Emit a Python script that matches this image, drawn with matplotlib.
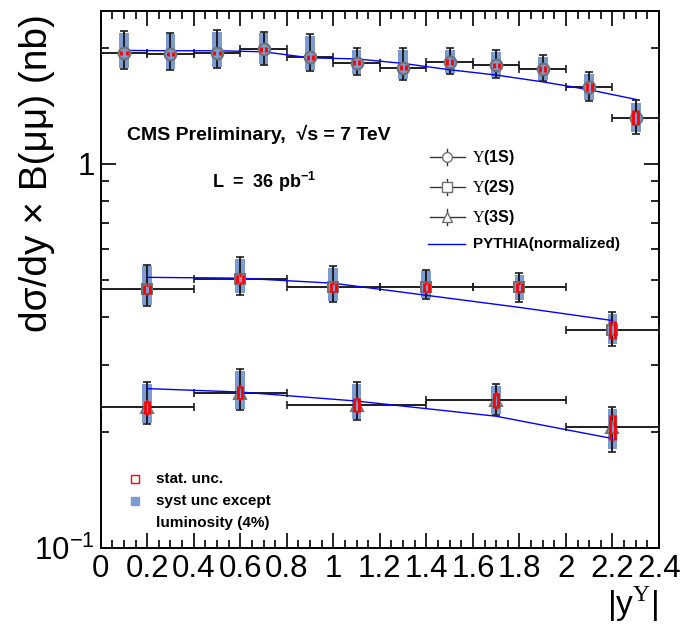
import matplotlib.pyplot as plt
from matplotlib.patches import Rectangle
from matplotlib.ticker import MultipleLocator, NullFormatter, LogLocator

plt.rcParams['font.family'] = ['Liberation Sans', 'DejaVu Sans']
plt.rcParams['mathtext.fontset'] = 'custom'
plt.rcParams['mathtext.rm'] = 'Liberation Serif'
plt.rcParams['mathtext.bf'] = 'Liberation Sans:bold'
plt.rcParams['mathtext.sf'] = 'Liberation Sans'

# Upsilon(1S): bin centres, half widths, value, total / syst / stat errors
x_1s = [0.1, 0.3, 0.5, 0.7, 0.9, 1.1, 1.3, 1.5, 1.7, 1.9, 2.1, 2.3]
xw_1s = [0.1] * 12
y_1s = [1.946, 1.934, 1.939, 1.986, 1.893, 1.833, 1.779, 1.841, 1.804, 1.768, 1.588, 1.319]
tot_up_1s = [0.27, 0.255, 0.29, 0.22, 0.28, 0.17, 0.22, 0.16, 0.17, 0.15, 0.146, 0.147]
tot_dn_1s = [0.18, 0.18, 0.16, 0.18, 0.15, 0.13, 0.13, 0.125, 0.13, 0.125, 0.13, 0.125]
sys_up_1s = [0.25, 0.24, 0.27, 0.20, 0.26, 0.15, 0.20, 0.14, 0.15, 0.13, 0.13, 0.12]
sys_dn_1s = [0.17, 0.17, 0.15, 0.17, 0.14, 0.12, 0.12, 0.115, 0.12, 0.115, 0.12, 0.11]
stat_1s = [0.023, 0.023, 0.023, 0.026, 0.025, 0.026, 0.027, 0.029, 0.031, 0.034, 0.040, 0.060]
pythia_1s = [1.974, 1.97, 1.97, 1.958, 1.888, 1.876, 1.826, 1.758, 1.703, 1.635, 1.559, 1.472]

# Upsilon(2S)
x_2s = [0.2, 0.6, 1.0, 1.4, 1.8, 2.2]
xw_2s = [0.2] * 6
y_2s = [0.471, 0.502, 0.477, 0.477, 0.477, 0.3705]
tot_up_2s = [0.075, 0.069, 0.065, 0.053, 0.042, 0.040]
tot_dn_2s = [0.044, 0.045, 0.040, 0.033, 0.039, 0.034]
sys_up_2s = [0.070, 0.064, 0.060, 0.048, 0.038, 0.036]
sys_dn_2s = [0.041, 0.042, 0.037, 0.030, 0.035, 0.030]
stat_2s = [0.013, 0.013, 0.013, 0.013, 0.014, 0.020]
pythia_2s = [0.5065, 0.504, 0.489, 0.4548, 0.423, 0.391]

# Upsilon(3S)
x_3s = [0.2, 0.6, 1.1, 1.7, 2.2]
xw_3s = [0.2, 0.2, 0.3, 0.3, 0.2]
y_3s = [0.2328, 0.2537, 0.2361, 0.2423, 0.2066]
tot_up_3s = [0.0376, 0.0384, 0.0343, 0.0244, 0.0262]
tot_dn_3s = [0.0229, 0.0254, 0.0211, 0.0207, 0.029]
sys_up_3s = [0.034, 0.035, 0.031, 0.022, 0.024]
sys_dn_3s = [0.021, 0.023, 0.019, 0.019, 0.026]
stat_3s = [0.009, 0.010, 0.010, 0.011, 0.015]
pythia_3s = [0.260, 0.2547, 0.2413, 0.2203, 0.1927]

x_ticks = [0, 0.2, 0.4, 0.6, 0.8, 1.0, 1.2, 1.4, 1.6, 1.8, 2.0, 2.2, 2.4]
x_ticklabels = ['0', '0.2', '0.4', '0.6', '0.8', '1', '1.2', '1.4', '1.6', '1.8', '2', '2.2', '2.4']

box_blue = '#7b9bd2'
mark_gray = '#707070'

fig = plt.figure(figsize=(6.81, 6.25), dpi=100)
ax = fig.add_axes([100.7 / 681, 1 - 548 / 625, 558.3 / 681, 537 / 625])
ax.set_yscale('log')
ax.set_xlim(0, 2.4)
ax.set_ylim(0.1, 2.5)


def draw_series(x, xw, y, tup, tdn, sup, sdn, stat, marker, ms, rw, caps):
    for xi, yi, su, sd in zip(x, y, sup, sdn):
        ax.add_patch(Rectangle((xi - 0.021, yi - sd), 0.042, su + sd,
                               facecolor=box_blue, edgecolor='none', zorder=2))
    ax.errorbar(x, y, xerr=xw, yerr=[tdn, tup], fmt='none', ecolor='#1e1e1e',
                elinewidth=1.4, capsize=3, capthick=1.2, zorder=3)
    ax.plot(x, y, linestyle='none', marker=marker, ms=ms, mfc=box_blue,
            mec=mark_gray, mew=1.4, zorder=4)
    # stat. uncertainty: red bracket marks around the marker
    lo = [yi - st for yi, st in zip(y, stat)]
    hi = [yi + st for yi, st in zip(y, stat)]
    ax.vlines([xi - rw for xi in x], lo, hi, color='red', lw=2.0, zorder=5)
    ax.vlines([xi + rw for xi in x], lo, hi, color='red', lw=2.0, zorder=5)
    if caps:
        ax.hlines(lo, [xi - 0.004 for xi in x], [xi + 0.004 for xi in x],
                  color='red', lw=2.0, zorder=5)
        ax.hlines(hi, [xi - 0.004 for xi in x], [xi + 0.004 for xi in x],
                  color='red', lw=2.0, zorder=5)


draw_series(x_1s, xw_1s, y_1s, tot_up_1s, tot_dn_1s, sys_up_1s, sys_dn_1s,
            stat_1s, 'o', 8.5, 0.011, False)
draw_series(x_2s, xw_2s, y_2s, tot_up_2s, tot_dn_2s, sys_up_2s, sys_dn_2s,
            stat_2s, 's', 7.5, 0.012, True)
draw_series(x_3s, xw_3s, y_3s, tot_up_3s, tot_dn_3s, sys_up_3s, sys_dn_3s,
            stat_3s, '^', 8.5, 0.009, True)

ax.plot(x_1s, pythia_1s, color='blue', lw=1.0, zorder=3.5)
ax.plot(x_2s, pythia_2s, color='blue', lw=1.0, zorder=3.5)
ax.plot(x_3s, pythia_3s, color='blue', lw=1.0, zorder=3.5)

# axes and ticks
ax.set_xticks(x_ticks)
ax.set_xticklabels(x_ticklabels)
ax.xaxis.set_minor_locator(MultipleLocator(0.05))
ax.set_yticks([0.1, 1])
ax.set_yticklabels([r'$\mathsf{10^{-1}}$', '1'])
ax.yaxis.set_minor_locator(LogLocator(base=10, subs=range(2, 10)))
ax.yaxis.set_minor_formatter(NullFormatter())
ax.tick_params(which='both', direction='in', top=True, right=True,
               labelsize=22.5, width=1.2)
ax.tick_params(which='major', length=11)
ax.tick_params(which='minor', length=5.5)
ax.tick_params(axis='x', pad=4)
ax.tick_params(axis='y', pad=4)
for sp in ax.spines.values():
    sp.set_linewidth(1.4)

# text
ax.text(0.047, 0.771, 'CMS Preliminary,  √s = 7 TeV',
        transform=ax.transAxes, fontsize=14, fontweight='bold', va='center')
ax.text(0.2, 0.682, r'$\mathbf{L\ =\ 36\ pb^{-1}}$',
        transform=ax.transAxes, fontsize=13, va='center')

# legend (top right)
leg_rows = [(0.728, 'o', r'$\mathrm{Υ}\mathbf{(1S)}$'),
            (0.672, 's', r'$\mathrm{Υ}\mathbf{(2S)}$'),
            (0.616, '^', r'$\mathrm{Υ}\mathbf{(3S)}$')]
for ly, mk, lab in leg_rows:
    ax.plot([0.589, 0.652], [ly, ly], color='#333333', lw=1.0,
            transform=ax.transAxes, zorder=6)
    ax.plot([0.6205, 0.6205], [ly - 0.015, ly + 0.015], color='#333333',
            lw=1.0, transform=ax.transAxes, zorder=6)
    ax.plot([0.6205], [ly], marker=mk, ms=7, mfc='white', mec=mark_gray,
            mew=1.0, transform=ax.transAxes, zorder=7)
    ax.text(0.665, ly, lab, transform=ax.transAxes, fontsize=11.5, va='center')
ax.plot([0.586, 0.652], [0.566, 0.566], color='blue', lw=1.0,
        transform=ax.transAxes)
ax.text(0.667, 0.566, 'PYTHIA(normalized)', transform=ax.transAxes,
        fontsize=11, fontweight='bold', va='center')

# legend (bottom left)
ax.plot([0.0615], [0.128], marker='s', ms=6, mfc='white', mec='red', mew=1.0,
        transform=ax.transAxes)
ax.plot([0.0615], [0.088], marker='s', ms=6, mfc=box_blue, mec=box_blue,
        transform=ax.transAxes)
ax.text(0.099, 0.128, 'stat. unc.', transform=ax.transAxes, fontsize=11,
        fontweight='bold', va='center')
ax.text(0.099, 0.088, 'syst unc except', transform=ax.transAxes, fontsize=11,
        fontweight='bold', va='center')
ax.text(0.099, 0.047, 'luminosity (4%)', transform=ax.transAxes, fontsize=11,
        fontweight='bold', va='center')

# axis titles
fig.text(37 / 681, 1 - 14 / 625, 'dσ/dy × B(μμ) (nb)', rotation=90,
         ha='center', va='top', fontsize=28)
fig.text(658 / 681, 1 - 604 / 625, r'$\mathsf{|y}^{\mathrm{Υ}}\mathsf{|}$',
         ha='right', va='center', fontsize=24)

fig.savefig('out.png', dpi=100)
